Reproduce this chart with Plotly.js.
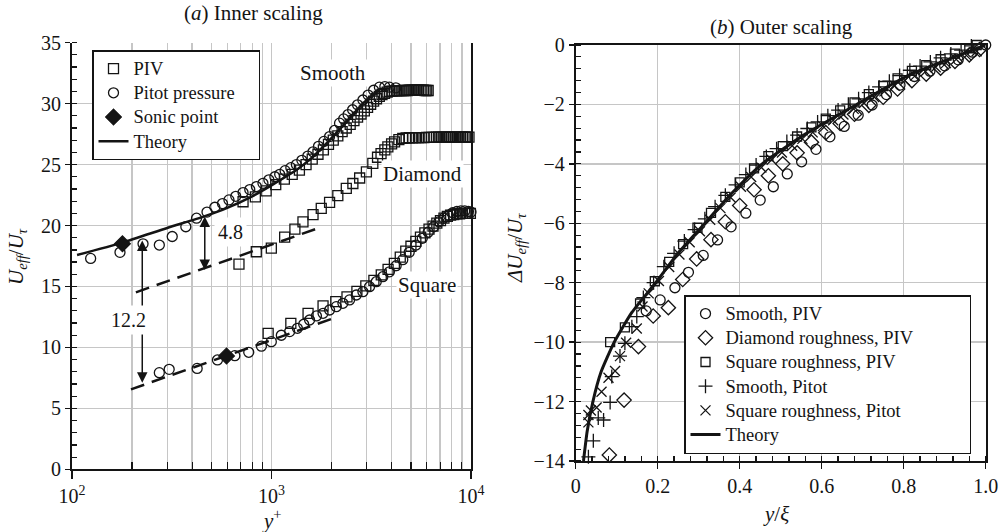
<!DOCTYPE html>
<html><head><meta charset="utf-8">
<script src="https://cdn.plot.ly/plotly-3.0.1.min.js"></script>
<style>html,body{margin:0;padding:0;background:#fff}#chart{width:1002px;height:532px}</style>
</head><body><div id="chart"></div>
<script>
// ---------- Panel (a): inner scaling ----------
const smoothPitotYp = [124,174,227,274,318,372,421,475,520,568,612,662,720,778,840,906,970,1040,1099,1170,1250,1333,1420,1520,1615,1720,1830,1955,2070,2193,2300,2420,2550,2700,2872,3050,3250,3474,3700,3900,4200];
const smoothPitotU  = [17.3,17.8,18.5,18.4,19.1,19.9,20.6,21.1,21.5,21.8,22.1,22.4,22.7,22.95,23.2,23.46,23.75,24.0,24.2,24.5,24.75,25.0,25.35,25.7,26.05,26.5,26.9,27.3,27.8,28.4,28.75,29.1,29.5,29.9,30.3,30.7,31.1,31.35,31.4,31.35,31.3];

const smoothPivYp = [720,830,940,1050,1160,1270,1380,1490,1600,1710,1820,1930,2040,2150,2260,2370,2480,2590,2700,2810,2920,3030,3140,3250,3360,3470,3580,3690,3800,3910,4020,4130,4240,4350,4460,4570,4680,4790,4900,5010,5120,5230,5340,5450,5560,5670,5780,5890,6000,6100];
const smoothPivU  = [21.95,22.35,22.85,23.35,23.8,24.2,24.55,25.0,25.45,25.85,26.2,26.65,27.0,27.35,27.7,28.0,28.3,28.6,28.9,29.15,29.4,29.7,29.95,30.2,30.4,30.6,30.75,30.85,30.95,31.0,
                     31.02,31.05,31.05,31.06,31.07,31.08,31.08,31.08,31.1,31.1,31.1,31.1,31.1,31.1,31.1,31.1,31.1,31.08,31.08,31.08];

const diamondPivYp = [687,839,998,1164,1310,1438,1615,1776,1955,2150,2371,2558,2766,2990,3220,3400,3540,3700,3830,4000,4140,4350,4550,
                      4730,4910,5090,5270,5450,5630,5810,5990,6170,6350,6530,6710,6890,7070,7250,7430,7610,7790,7970,8150,8330,8510,8690,8870,9050,9230,9410,9590,9770,9950];
const diamondPivU  = [16.84,17.85,18.15,19.05,19.7,20.3,20.9,21.4,21.9,22.45,23.05,23.45,23.9,24.4,25.1,25.6,25.9,26.2,26.46,26.7,26.87,27.05,27.15,
                      27.18,27.2,27.2,27.22,27.22,27.22,27.22,27.24,27.24,27.24,
                      27.24,27.25,27.25,27.25,27.25,27.25,27.25,27.25,27.25,27.25,
                      27.25,27.25,27.25,27.25,27.25,27.25,27.25,27.25,27.25];

const squarePivYp = [962,1250,1525,1813,2100,2390,2680,2970,3260,3550,3840,4130,4420,4710,5000,5290,5580,5870,6160,6450,6740,7030,7320,7610,7900,8190,8480,8770,9060,9350,9640,9930];
const squarePivU  = [11.16,11.98,12.8,13.4,13.75,14.15,14.6,15.05,15.5,15.95,16.4,16.9,17.4,17.9,18.3,18.7,19.05,19.4,19.7,19.95,20.2,20.4,20.6,20.75,20.85,20.9,20.95,20.95,21.0,21.0,21.0,21.0];

const squarePitotYp = [274,307,424,536,655,769,890,998,1120,1233,1348,1450,1552,1680,1813,1955,2112,2280,2462,2660,2872,3100,3350,3615,3900,4215,4550,4900,5300,5700,6100,6500,6900,7300,7700,8100,8500,8900,9300,9700,10000];
const squarePitotU  = [7.93,8.2,8.28,8.97,9.32,9.6,10.1,10.47,11.0,11.3,11.57,11.9,12.25,12.58,12.8,13.07,13.34,13.62,13.9,14.3,14.57,14.98,15.39,15.8,16.2,16.7,17.2,17.8,18.4,18.95,19.45,19.9,20.3,20.6,20.85,21.05,21.15,21.2,21.2,21.15,21.1];

const sonicYp = [179, 595];
const sonicU  = [18.5, 9.3];

const theoryAYp = [106,179,300,460,600,800,1000,1333,1615,1955,2371,2872,3474];
const theoryAU  = [17.58,18.6,19.8,20.75,21.45,22.4,23.3,24.55,25.65,27.0,28.5,30.0,31.2];

const diamondLogYp = [209, 1797];
const diamondLogU  = [14.52, 19.9];
const squareLogYp  = [197.5, 1993];
const squareLogU   = [6.56, 12.33];

// velocity-shift arrows and their labels
const shiftArrowYp   = [225, 463];
const shiftArrowTop  = [18.9, 20.86];
const shiftArrowBot  = [7.1, 16.35];
const shiftLabels    = ['12.2', '4.8'];
const shiftLabelYp   = [193, 625];
const shiftLabelU    = [12.25, 19.5];

const caseLabels   = ['Smooth', 'Diamond', 'Square'];
const caseLabelYp  = [2023, 5740, 6050];
const caseLabelU   = [32.5, 24.2, 15.1];

const xTickVals = [100, 1000, 10000];
const xTickText = ['10<sup>2</sup>', '10<sup>3</sup>', '10<sup>4</sup>'];

// ---------- Panel (b): outer scaling ----------
const bSmoothPivX = [0.172,0.206,0.242,0.275,0.311,0.346,0.379,0.415,0.45,0.482,0.516,0.551,0.586,0.62,0.655,0.689,0.723,0.758,0.791,0.826,0.864,0.9,0.933,0.968,1.0];
const bSmoothPivV = [-8.95,-8.58,-8.17,-7.65,-7.08,-6.56,-6.12,-5.66,-5.22,-4.77,-4.34,-3.93,-3.51,-3.09,-2.74,-2.36,-2.02,-1.67,-1.35,-1.06,-0.88,-0.7,-0.5,-0.24,0.0];

const bDiamondPivX = [0.082,0.118,0.153,0.189,0.226,0.261,0.295,0.33,0.365,0.4,0.435,0.47,0.505,0.54,0.575,0.61,0.645,0.68,0.715,0.75,0.785,0.82,0.855,0.89,0.925,0.96,0.985];
const bDiamondPivV = [-13.8,-11.95,-10.15,-9.12,-8.84,-7.89,-7.2,-6.55,-5.95,-5.4,-4.87,-4.4,-4.0,-3.63,-3.27,-2.95,-2.64,-2.33,-2.03,-1.76,-1.48,-1.2,-0.98,-0.78,-0.55,-0.33,-0.15];

const bSquarePivX = [0.084,0.12,0.157,0.193,0.228,0.262,0.297,0.33,0.365,0.4,0.435,0.47,0.505,0.54,0.575,0.61,0.645,0.68,0.715,0.75,0.785,0.82,0.855,0.89,0.925,0.96,0.978];
const bSquarePivV = [-10.0,-9.5,-8.7,-7.95,-7.3,-6.7,-6.15,-5.65,-5.11,-4.62,-4.15,-3.74,-3.4,-3.08,-2.77,-2.48,-2.2,-1.93,-1.65,-1.38,-1.12,-0.87,-0.68,-0.48,-0.29,-0.11,0.0];

const bSmoothPitotX = [0.031,0.043,0.055,0.068,0.084,0.088,0.108,0.12,0.137,0.149,0.165,0.19,0.215,0.24,0.265,0.29,0.315,0.34,0.365,0.39,0.415,0.44,0.465,0.49,0.515,0.54,0.565,0.59,0.615,0.64,0.665,0.69,0.715,0.74,0.765,0.79,0.815,0.84,0.865,0.89,0.915,0.94,0.965];
const bSmoothPitotV = [-13.86,-13.32,-12.55,-12.62,-12.03,-11.16,-10.47,-10.04,-9.48,-9.14,-8.5,-8.0,-7.46,-7.01,-6.6,-6.21,-5.85,-5.44,-5.06,-4.71,-4.36,-4.04,-3.75,-3.49,-3.25,-3.03,-2.81,-2.59,-2.38,-2.19,-1.99,-1.81,-1.6,-1.41,-1.22,-1.03,-0.85,-0.71,-0.57,-0.43,-0.3,-0.17,-0.03];

const bSquarePitotX = [0.031,0.031,0.037,0.051,0.063,0.08,0.096,0.108,0.123,0.149,0.163,0.178,0.203,0.228,0.253,0.278,0.303,0.328,0.353,0.378,0.403,0.428,0.453,0.478,0.503,0.528,0.553,0.578,0.603,0.628,0.653,0.678,0.703,0.728,0.753,0.778,0.803,0.828,0.853,0.878,0.903,0.928,0.953,0.978];
const bSquarePitotV = [-12.7,-12.45,-12.3,-12.2,-11.67,-11.2,-10.97,-10.47,-10.02,-9.54,-8.8,-8.36,-7.94,-7.47,-7.05,-6.64,-6.27,-5.88,-5.49,-5.13,-4.77,-4.44,-4.12,-3.86,-3.62,-3.39,-3.16,-2.94,-2.73,-2.53,-2.34,-2.15,-1.95,-1.75,-1.56,-1.37,-1.19,-1.03,-0.89,-0.75,-0.61,-0.48,-0.35,-0.21];

const bTheoryX = [0.019,0.028,0.042,0.062,0.094,0.137,0.195,0.25,0.315,0.38,0.455,0.56,0.685,0.815,0.905,1.0];
const bTheoryV = [-14,-13,-12,-11,-10,-9,-8,-7,-6,-5,-4,-3,-2,-1,-0.5,0];

const bTickVals = [0,0.2,0.4,0.6,0.8,1.0];
const bTickText = ['0','0.2','0.4','0.6','0.8','1.0'];

// ---------- styling ----------
const FONT = 'Liberation Serif';
const INK = '#141414';
const GRID = '#c6c6c6';
const PAD = '\u00a0';
function lg(name, pad) {
  return '<span style="font-size:18.5px">' + name + PAD.repeat(pad || 0) + '</span>';
}

function markers(x, y, symbol, size, extra) {
  return Object.assign({
    type: 'scatter', mode: 'markers', x: x, y: y, cliponaxis: false,
    marker: {symbol: symbol, size: size, color: INK, line: {color: INK, width: 1.3}},
    hoverinfo: 'skip'
  }, extra);
}
function line(x, y, width, dash, extra) {
  return Object.assign({
    type: 'scatter', mode: 'lines', x: x, y: y,
    line: {color: INK, width: width, dash: dash},
    hoverinfo: 'skip'
  }, extra);
}

const A = {xaxis: 'x', yaxis: 'y', legend: 'legend'};
const B = {xaxis: 'x2', yaxis: 'y2', legend: 'legend2'};

const traces = [
  markers(diamondPivYp, diamondPivU, 'square-open', 10, Object.assign({showlegend: false}, A)),
  markers(squarePivYp, squarePivU, 'square-open', 10, Object.assign({showlegend: false}, A)),
  markers(smoothPivYp, smoothPivU, 'square-open', 10, Object.assign({name: lg('PIV'), legendrank: 1}, A)),
  markers(squarePitotYp, squarePitotU, 'circle-open', 10, Object.assign({showlegend: false}, A)),
  markers(smoothPitotYp, smoothPitotU, 'circle-open', 10, Object.assign({name: lg('Pitot pressure', 4), legendrank: 2}, A)),
  line(diamondLogYp, diamondLogU, 2.5, '14px,8px', Object.assign({showlegend: false}, A)),
  line(squareLogYp, squareLogU, 2.5, '14px,8px', Object.assign({showlegend: false}, A)),
  line(theoryAYp, theoryAU, 2.5, 'solid', Object.assign({name: lg('Theory'), legendrank: 4, line: {color: INK, width: 2.5, shape: 'spline', smoothing: 0.6}}, A)),
  markers(sonicYp, sonicU, 'diamond', 12, Object.assign({name: lg('Sonic point'), legendrank: 3}, A)),

  markers(bSmoothPivX, bSmoothPivV, 'circle-open', 10, Object.assign({name: lg('Smooth, PIV'), legendrank: 1}, B)),
  markers(bDiamondPivX, bDiamondPivV, 'diamond-open', 11, Object.assign({name: lg('Diamond roughness, PIV', 11), legendrank: 2}, B)),
  markers(bSquarePivX, bSquarePivV, 'square-open', 9, Object.assign({name: lg('Square roughness, PIV'), legendrank: 3}, B)),
  markers(bSmoothPitotX, bSmoothPitotV, 'cross-thin-open', 10, Object.assign({name: lg('Smooth, Pitot'), legendrank: 4}, B)),
  markers(bSquarePitotX, bSquarePitotV, 'x-thin-open', 10, Object.assign({name: lg('Square roughness, Pitot'), legendrank: 5}, B)),
  line(bTheoryX, bTheoryV, 3, 'solid', Object.assign({name: lg('Theory'), legendrank: 6, line: {color: INK, width: 3, shape: 'spline', smoothing: 0.5}}, B))
];

const minorX = [];
[100, 1000].forEach(function (d) { for (let k = 2; k <= 9; k++) minorX.push(k * d); });

const axisCommon = {
  showline: true, linecolor: INK, linewidth: 2, ticks: 'outside', tickcolor: INK, tickwidth: 1.5,
  showgrid: true, gridcolor: GRID, gridwidth: 1.3, zeroline: false,
  tickfont: {family: FONT, size: 20, color: INK}, fixedrange: true
};

const annotations = [];
function txt(text, x, y, size, extra) {
  annotations.push(Object.assign({text: text, x: x, y: y, xref: 'paper', yref: 'paper', showarrow: false,
    font: {family: FONT, size: size, color: INK}, xanchor: 'center', yanchor: 'middle'}, extra));
}
txt('(<i>a</i>) Inner scaling', 254 / 1002, 1 - 13 / 532, 21);
txt('(<i>b</i>) Outer scaling', 781 / 1002, 1 - 27 / 532, 21);
txt('<i>y</i><sup>+</sup>', 272 / 1002, 1 - 519 / 532, 21);
txt('<i>y</i>/<i>ξ</i>', 776 / 1002, 1 - 514 / 532, 21);
txt('<i>U</i><sub><i>eff</i></sub>/<i>U</i><sub><i>τ</i></sub>', 17 / 1002, 1 - 257 / 532, 21, {textangle: -90});
txt('<i>ΔU</i><sub><i>eff</i></sub>/<i>U</i><sub><i>τ</i></sub>', 516 / 1002, 1 - 248 / 532, 21, {textangle: -90});

for (let i = 0; i < shiftArrowYp.length; i++) {
  const lx = Math.log10(shiftArrowYp[i]);
  annotations.push({xref: 'x', yref: 'y', axref: 'x', ayref: 'y', x: lx, y: shiftArrowBot[i], ax: lx, ay: shiftArrowTop[i],
    text: '', showarrow: true, arrowhead: 2, startarrowhead: 2, arrowside: 'end+start', arrowsize: 1.4, startarrowsize: 1.4,
    arrowwidth: 1.5, arrowcolor: INK, standoff: 0, startstandoff: 0});
}
for (let i = 0; i < shiftLabels.length; i++) {
  annotations.push({xref: 'x', yref: 'y', x: Math.log10(shiftLabelYp[i]), y: shiftLabelU[i], text: shiftLabels[i], showarrow: false,
    font: {family: FONT, size: 20, color: INK}, bgcolor: '#ffffff', borderpad: 3});
}
for (let i = 0; i < caseLabels.length; i++) {
  annotations.push({xref: 'x', yref: 'y', x: Math.log10(caseLabelYp[i]), y: caseLabelU[i], text: caseLabels[i], showarrow: false,
    font: {family: FONT, size: 21, color: INK}, bgcolor: '#ffffff', borderpad: 1});
}

const legendCommon = {
  xanchor: 'left', yanchor: 'top', bgcolor: '#ffffff', bordercolor: INK, borderwidth: 1.5,
  font: {family: FONT, size: 16.3, color: INK}, tracegroupgap: 0, itemwidth: 30
};

const layout = {
  width: 1002, height: 532, margin: {l: 0, r: 0, t: 0, b: 0},
  paper_bgcolor: '#ffffff', plot_bgcolor: '#ffffff', showlegend: true,
  font: {family: FONT, color: INK},
  xaxis: Object.assign({}, axisCommon, {
    type: 'log', domain: [72 / 1002, 471 / 1002], range: [2, 4], anchor: 'y',
    tickmode: 'array', tickvals: xTickVals, ticktext: xTickText, ticklen: 8,
    minor: {tickmode: 'array', tickvals: minorX, ticks: 'inside', ticklen: 7, tickcolor: INK, tickwidth: 1.2,
            showgrid: true, gridcolor: GRID, gridwidth: 1.3}
  }),
  yaxis: Object.assign({}, axisCommon, {
    domain: [1 - 469.3 / 532, 1 - 42.7 / 532], range: [0, 35], dtick: 5, ticklen: 5, anchor: 'x', mirror: true,
    minor: {dtick: 1, ticks: 'inside', ticklen: 5, tickcolor: INK, tickwidth: 1.2, showgrid: false}
  }),
  xaxis2: Object.assign({}, axisCommon, {
    domain: [575.7 / 1002, 985.7 / 1002], range: [0, 1], anchor: 'y2', mirror: true,
    tickmode: 'array', tickvals: bTickVals, ticktext: bTickText, ticklen: 6,
    minor: {dtick: 0.04, ticks: 'inside', ticklen: 5, tickcolor: INK, tickwidth: 1.2, showgrid: false}
  }),
  yaxis2: Object.assign({}, axisCommon, {
    domain: [1 - 461 / 532, 1 - 45 / 532], range: [-14, 0], dtick: 2, ticklen: 5, anchor: 'x2', mirror: true,
    minor: {dtick: 0.4, ticks: 'inside', ticklen: 5, tickcolor: INK, tickwidth: 1.2, showgrid: false}
  }),
  legend: Object.assign({}, legendCommon, {x: 92 / 1002, y: 1 - 50 / 532}),
  legend2: Object.assign({}, legendCommon, {x: 684 / 1002, y: 1 - 295 / 532}),
  annotations: annotations
};

Plotly.newPlot('chart', traces, layout, {staticPlot: true, displayModeBar: false});
</script></body></html>
